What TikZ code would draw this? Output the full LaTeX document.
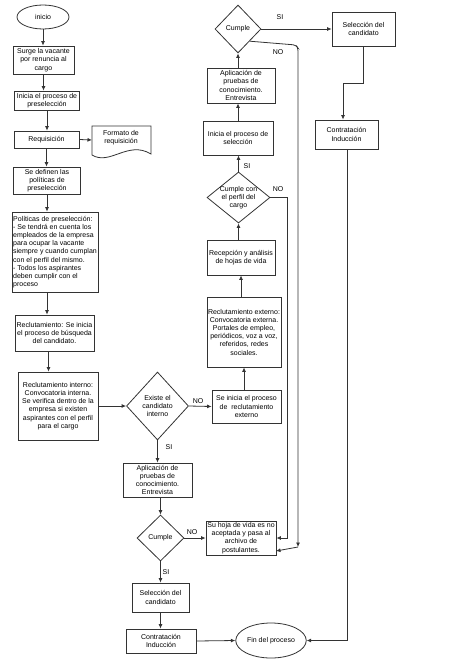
\documentclass[tikz,border=0pt]{standalone}
\usepackage{fontspec}
\setmainfont{Liberation Sans}
\usetikzlibrary{shapes.geometric,arrows.meta,calc}
\tikzset{
  base/.style={draw=black!80, line width=0.8pt, font=\fontsize{7}{8.2}\selectfont, align=center, inner sep=1pt},
  bx/.style={base, rectangle},
  el/.style={base, ellipse},
  dia/.style={base, diamond, inner sep=0pt},
  lbl/.style={font=\fontsize{7}{8.2}\selectfont, inner sep=0pt},
  con/.style={draw=black!80, line width=0.8pt, -{Latex[length=4.5pt,width=4pt]}},
  ln/.style={draw=black!80, line width=0.8pt}
}
\begin{document}
\begin{tikzpicture}[x=1pt,y=-1pt]
\useasboundingbox (0,0) rectangle (474,669);
% left column
\node[el, minimum width=52, minimum height=24] (ini) at (43,17) {inicio};
\node[bx, minimum width=61, minimum height=28] (surge) at (43.5,60) {Surge la vacante\\por renuncia al\\cargo};
\node[bx, minimum width=65, minimum height=19] (inic) at (47,100.5) {Inicia el proceso de\\preselección};
\node[bx, minimum width=65, minimum height=17] (req) at (46.5,139.5) {Requisición};
\node[lbl, align=center] (doc) at (121,138) {Formato de\\requisición};
\draw[ln] (92,126) -- (151,126) -- (151,154) .. controls (128,140) and (110,166) .. (92,155) -- cycle;
\coordinate (docw) at (92,140);
\node[bx, minimum width=67, minimum height=27] (def) at (47,180.5) {Se definen las\\políticas de\\preselección};
\node[bx, align=left, minimum width=86, minimum height=80] (pol) at (55,252) {Políticas de preselección:\\- Se tendrá en cuenta los\\empleados de la empresa\\para ocupar la vacante\\siempre y cuando cumplan\\con el perfil del mismo.\\- Todos los aspirantes\\deben cumplir con el\\proceso};
\node[bx, minimum width=79, minimum height=36] (recl) at (54.5,333) {Reclutamiento: Se inicia\\el proceso de búsqueda\\del candidato.};
\node[bx, minimum width=80, minimum height=68] (rint) at (58,406) {Reclutamiento interno:\\Convocatoria interna.\\Se verifica dentro de la\\empresa si existen\\aspirantes con el perfil\\para el cargo};
\node[dia, minimum width=62, minimum height=68] (exi) at (157.5,406) {};
\node[lbl, align=center] (exit) at (exi) {Existe el\\candidato\\interno};
\node[bx, minimum width=69, minimum height=33] (sie) at (246.5,406.5) {Se inicia el proceso\\de\ \ reclutamiento\\externo};
\node[bx, minimum width=69, minimum height=34] (apl1) at (157.5,480) {Aplicación de\\pruebas de\\conocimiento.\\Entrevista};
\node[dia, minimum width=47, minimum height=46] (cum1) at (160.5,538) {};
\node[lbl] (cum1t) at (cum1) {Cumple};
\node[bx, minimum width=70, minimum height=34] (hoja) at (241,538) {Su hoja de vida es no\\aceptada y pasa al\\archivo de\\postulantes.};
\node[bx, minimum width=57, minimum height=29] (sel1) at (160.5,597.5) {Selección del\\candidato};
\node[bx, minimum width=70, minimum height=24] (con1) at (161,641) {Contratación\\Inducción};
\node[el, minimum width=66, minimum height=35] (fin) at (271,640.5) {Fin del proceso};
% right column
\node[dia, minimum width=46, minimum height=48] (cum2) at (238,29) {};
\node[lbl] (cum2t) at (cum2) {Cumple};
\node[bx, minimum width=63, minimum height=34] (sel2) at (363.5,29) {Selección del\\candidato};
\node[bx, minimum width=63, minimum height=29] (con2) at (346.5,134.5) {Contratación\\Inducción};
\node[bx, minimum width=68, minimum height=35] (apl2) at (241,85.5) {Aplicación de\\pruebas de\\conocimiento.\\Entrevista};
\node[bx, minimum width=70, minimum height=34] (ins) at (238,138) {Inicia el proceso de\\selección};
\node[dia, minimum width=63, minimum height=51] (cper) at (238.5,197.5) {};
\node[lbl, align=center] (cpert) at (cper) {Cumple con\\el perfil del\\cargo};
\node[bx, minimum width=68, minimum height=35] (rec) at (241,257.5) {Recepción y análisis\\de hojas de vida};
\node[bx, minimum width=74, minimum height=70] (rext) at (244,332) {Reclutamiento externo:\\Convocatoria externa.\\Portales de empleo,\\periódicos, voz a voz,\\referidos, redes\\sociales.};
% labels
\node[lbl] (l1) at (280,17) {SI};
\node[lbl] (l2) at (278,52) {NO};
\node[lbl] (l3) at (247,166) {SI};
\node[lbl] (l4) at (278,189) {NO};
\node[lbl] (l5) at (198,401) {NO};
\node[lbl] (l6) at (169,447) {SI};
\node[lbl] (l7) at (192,532) {NO};
\node[lbl] (l8) at (166,572) {SI};
% connectors left
\draw[con] (ini.south) -- (ini.south |- surge.north);
\draw[con] (surge.south) -- (surge.south |- inic.north);
\draw[con] (inic.south) -- (inic.south |- req.north);
\draw[con] (req.east) -- (docw);
\draw[con] (req.south) -- (req.south |- def.north);
\draw[con] (def.south) -- (def.south |- pol.north);
\draw[con] (pol.south -| def.south) -- (def.south |- recl.north);
\draw[con] ($(recl.south)+(-6,0)$) -- ($(recl.south |- rint.north)+(-6,0)$);
\draw[con] (rint.east) -- (exi.west);
\draw[con] (exi.east) -- (sie.west);
\draw[con] (exi.south) -- (exi.south |- apl1.north);
\draw[con] (cum1.north |- apl1.south) -- (cum1.north);
\draw[con] (cum1.east) -- (hoja.west);
\draw[con] (cum1.south) -- (cum1.south |- sel1.north);
\draw[con] (sel1.south) -- (sel1.south |- con1.north);
\draw[con] (con1.east) -- (fin.west);
% connectors right
\coordinate (xa) at (343,83);
\coordinate (xb) at (347,640.5);
\draw[con] (rext.south |- sie.north) -- (rext.south);
\draw[con] (rec.south |- rext.north) -- (rec.south);
\draw[con] (cper.south |- rec.north) -- (cper.south);
\draw[con] (cper.north) -- (cper.north |- ins.south);
\draw[con] (ins.north) -- (ins.north |- apl2.south);
\draw[con] (apl2.north -| cum2.south) -- (cum2.south);
\draw[con] (cum2.east) -- (cum2.east -| sel2.west);
\draw[con] (sel2.south) -- (sel2.south |- xa) -- (xa) -- (xa |- con2.north);
\draw[con] (xb |- con2.south) -- (xb) -- (fin.east);
\coordinate (k1) at (287,538);
\draw[con] (cper.east) -- (k1 |- cper.east) -- (k1) -- (k1 -| hoja.east);
\coordinate (k2) at (298,547);
\coordinate (k3) at (276,551);
\draw[con, rounded corners=3pt] ($(cum2.south)!0.5!(cum2.east)$) -- (296,45) -- (298,48) -- (k2);
\draw[con] (k2) -- (k3);
\end{tikzpicture}
\end{document}
